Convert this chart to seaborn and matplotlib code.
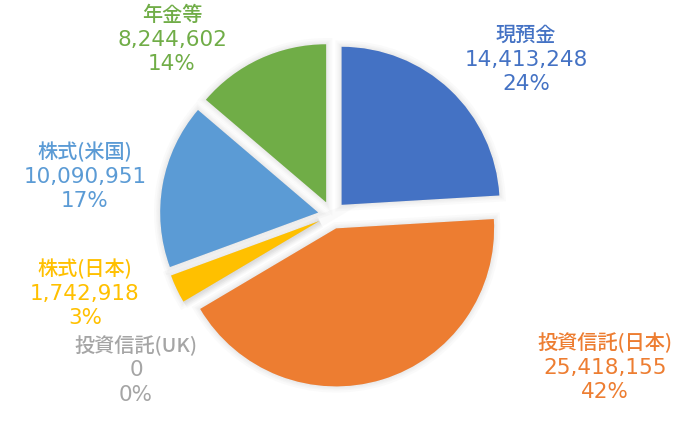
import matplotlib
matplotlib.use("Agg")
import matplotlib.pyplot as plt
import seaborn as sns

# Asset allocation (JPY)
categories = ["現預金", "投資信託(日本)", "投資信託(UK)", "株式(日本)", "株式(米国)", "年金等"]
amounts = [14413248, 25418155, 0, 1742918, 10090951, 8244602]
colors = ["#4472C4", "#ED7D31", "#A5A5A5", "#FFC000", "#5B9BD5", "#70AD47"]

# label anchor points (pixel coords from top-left), one per category
label_xy = [(526, 35), (605, 343), (136, 346), (85, 269), (85, 152), (172, 15)]
line_gap = 24.5

sns.set_theme(style="white")
plt.rcParams["font.family"] = ["Noto Sans CJK JP", "DejaVu Sans"]

W, H = 700, 428
fig = plt.figure(figsize=(W / 100, H / 100), dpi=100)
ax = fig.add_axes([0, 0, 1, 1])

center = (332, H - 215)
radius = 158
explode = [14] * len(amounts)

# soft shadow layers behind the wedges
for lw in [9, 6, 4, 2]:
    ax.pie(amounts, colors=["#808080"] * len(amounts), startangle=90,
           counterclock=False, center=center, radius=radius,
           explode=explode, frame=True,
           wedgeprops=dict(edgecolor="#808080", linewidth=lw, alpha=0.035))
wedges, _ = ax.pie(amounts, colors=colors, startangle=90, counterclock=False,
                   center=center, radius=radius, explode=explode, frame=True,
                   wedgeprops=dict(edgecolor="none", linewidth=0))
ax.set_xlim(0, W)
ax.set_ylim(0, H)
ax.set_aspect("equal")
ax.axis("off")

total = sum(amounts)
name_font = ["Noto Sans CJK JP", "DejaVu Sans"]
num_font = ["DejaVu Sans"]
for name, val, col, (lx, ly) in zip(categories, amounts, colors, label_xy):
    pct = f"{round(val / total * 100)}%"
    ax.text(lx, H - ly, name, color=col, fontsize=14.5, family=name_font,
            weight="medium", ha="center", va="center")
    ax.text(lx, H - ly - line_gap, f"{val:,}", color=col, fontsize=15.5,
            family=num_font, ha="center", va="center")
    ax.text(lx, H - ly - 2 * line_gap, pct, color=col, fontsize=15.5,
            family=num_font, ha="center", va="center")

fig.savefig("out.png", dpi=100, facecolor="white")
